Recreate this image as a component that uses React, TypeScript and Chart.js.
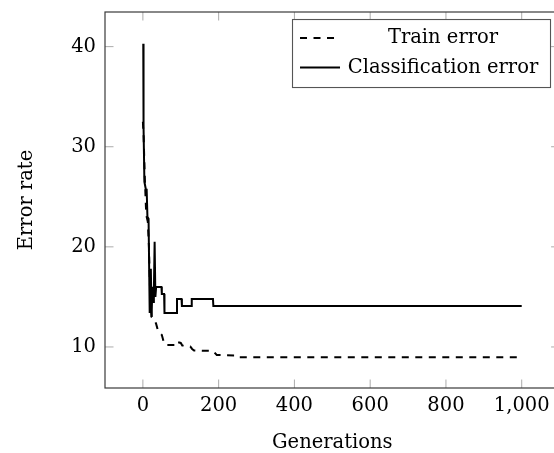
import React, { useEffect, useRef } from 'react';
import { Chart, registerables } from 'chart.js';

Chart.register(...registerables);

const xTickValues = [0, 200, 400, 600, 800, 1000];
const xTickLabels = ['0', '200', '400', '600', '800', '1,000'];
const yTickValues = [10, 20, 30, 40];
const yTickLabels = ['10', '20', '30', '40'];

const trainGenerations = [0, 2, 5, 8, 10, 13, 16, 18, 20, 23, 30, 35, 40, 50, 55, 60, 90, 91, 100, 104, 125, 130, 135, 185, 195, 250, 255, 1000];
const trainError = [32.5, 31, 27, 24, 23, 22.5, 20, 17, 14.5, 13, 12.8, 12.3, 11.6, 11.2, 10.5, 10.2, 10.2, 10.5, 10.4, 10.15, 10.05, 9.8, 9.65, 9.6, 9.2, 9.15, 8.96, 8.96];

const classGenerations = [1, 1.5, 2, 4, 8, 10, 12, 15, 18, 19, 21, 23, 25, 27, 29, 31, 33, 35, 49, 50, 56, 57, 89, 90, 102, 103, 128, 129, 185, 186, 1000];
const classError = [40.3, 36, 32, 26.5, 25.7, 25.7, 23, 22.8, 13.4, 15, 17.8, 13, 16, 14.5, 15.5, 20.5, 15, 16, 16, 15.3, 15.3, 13.4, 13.4, 14.8, 14.8, 14.1, 14.1, 14.8, 14.8, 14.1, 14.1];

const seriesLabels = ['Train error', 'Classification error'];
const xTitle = 'Generations';
const yTitle = 'Error rate';

const FONT = 'DejaVu Serif';
const FS = 19.5;

const frameAndLegend = {
  id: 'frameAndLegend',
  afterDraw(chart: any) {
    const ctx = chart.ctx;
    const { left, right, top, bottom } = chart.chartArea;
    const xs = chart.scales.x;
    const ys = chart.scales.y;
    ctx.save();
    // inward ticks
    ctx.strokeStyle = '#ababab';
    ctx.lineWidth = 1;
    const tl = 8.5;
    xs.ticks.forEach((t: any) => {
      const px = xs.getPixelForValue(t.value);
      ctx.beginPath();
      ctx.moveTo(px, bottom);
      ctx.lineTo(px, bottom - tl);
      ctx.moveTo(px, top);
      ctx.lineTo(px, top + tl);
      ctx.stroke();
    });
    ys.ticks.forEach((t: any) => {
      const py = ys.getPixelForValue(t.value);
      ctx.beginPath();
      ctx.moveTo(left, py);
      ctx.lineTo(left + tl, py);
      ctx.moveTo(right, py);
      ctx.lineTo(right - tl, py);
      ctx.stroke();
    });
    // frame
    ctx.strokeStyle = '#3a3a3a';
    ctx.lineWidth = 1.2;
    ctx.strokeRect(left, top, right - left, bottom - top);

    // legend
    const w = 258;
    const h = 68;
    const x0 = right - 0.02 * (right - left) - w;
    const y0 = top + 0.02 * (bottom - top);
    ctx.fillStyle = '#ffffff';
    ctx.fillRect(x0, y0, w, h);
    ctx.strokeStyle = '#555555';
    ctx.lineWidth = 1.1;
    ctx.strokeRect(x0, y0, w, h);
    const rows = [y0 + 18.5, y0 + 48];
    chart.data.datasets.forEach((ds: any, i: number) => {
      const ry = rows[i];
      ctx.beginPath();
      ctx.strokeStyle = '#000';
      ctx.lineWidth = ds.borderWidth;
      ctx.setLineDash(ds.borderDash || []);
      ctx.moveTo(x0 + 7.5, ry);
      ctx.lineTo(x0 + (ds.borderDash && ds.borderDash.length ? 43 : 47.5), ry);
      ctx.stroke();
      ctx.setLineDash([]);
      ctx.fillStyle = '#000';
      ctx.font = `${FS}px "${FONT}"`;
      ctx.textAlign = 'center';
      ctx.textBaseline = 'middle';
      ctx.fillText(ds.label, x0 + 150.5, ry);
    });
    ctx.restore();
  },
};

export default function App() {
  const ref = useRef<HTMLCanvasElement | null>(null);
  useEffect(() => {
    if (!ref.current) return;
    const chart = new Chart(ref.current, {
      type: 'line',
      data: {
        datasets: [
          {
            label: seriesLabels[0],
            data: trainGenerations.map((g, i) => ({ x: g, y: trainError[i] })),
            borderColor: '#000',
            borderWidth: 2,
            borderDash: [7, 6.5],
            pointRadius: 0,
            tension: 0,
            fill: false,
          },
          {
            label: seriesLabels[1],
            data: classGenerations.map((g, i) => ({ x: g, y: classError[i] })),
            borderColor: '#000',
            borderWidth: 2,
            pointRadius: 0,
            tension: 0,
            fill: false,
          },
        ],
      },
      options: {
        responsive: false,
        animation: false,
        events: [],
        layout: { padding: { left: 0, top: 12, right: 10.4, bottom: 0 } },
        plugins: { legend: { display: false }, tooltip: { enabled: false } },
        scales: {
          x: {
            type: 'linear',
            min: -100,
            max: 1100,
            grid: { display: false, drawTicks: false },
            border: { display: false },
            afterBuildTicks: (s: any) => {
              s.ticks = xTickValues.map((v) => ({ value: v }));
            },
            afterFit: (s: any) => {
              s.height = 65;
              s.paddingLeft = 0;
              s.paddingRight = 0;
            },
            ticks: {
              padding: 7.75,
              color: '#000',
              font: { family: FONT, size: FS, lineHeight: 1 },
              maxRotation: 0,
              autoSkip: false,
              callback: (v: any) => {
                const i = xTickValues.indexOf(Number(v));
                return i >= 0 ? xTickLabels[i] : '';
              },
            },
            title: {
              display: true,
              text: xTitle,
              color: '#000',
              font: { family: FONT, size: FS, lineHeight: 1 },
              padding: { top: 0, bottom: 0 },
            },
          },
          y: {
            type: 'linear',
            min: 5.9,
            max: 43.46,
            grid: { display: false, drawTicks: false },
            border: { display: false },
            afterBuildTicks: (s: any) => {
              s.ticks = yTickValues.map((v) => ({ value: v }));
            },
            afterFit: (s: any) => {
              s.width = 105;
              s.paddingTop = 0;
              s.paddingBottom = 0;
            },
            ticks: {
              padding: 9,
              color: '#000',
              font: { family: FONT, size: FS, lineHeight: 1 },
              autoSkip: false,
              callback: (v: any) => {
                const i = yTickValues.indexOf(Number(v));
                return i >= 0 ? yTickLabels[i] : '';
              },
            },
            title: {
              display: true,
              text: yTitle,
              color: '#000',
              font: { family: FONT, size: FS, lineHeight: 1 },
              padding: { top: 17, bottom: 0 },
            },
          },
        },
      },
      plugins: [frameAndLegend],
    });
    return () => chart.destroy();
  }, []);
  return (
    <div
      style={{
        position: 'fixed',
        left: 0,
        top: 0,
        width: 554,
        height: 453,
        overflow: 'hidden',
        background: '#fff',
      }}
    >
      <canvas ref={ref} width={570} height={453} style={{ display: 'block', width: 570, height: 453 }} />
    </div>
  );
}
